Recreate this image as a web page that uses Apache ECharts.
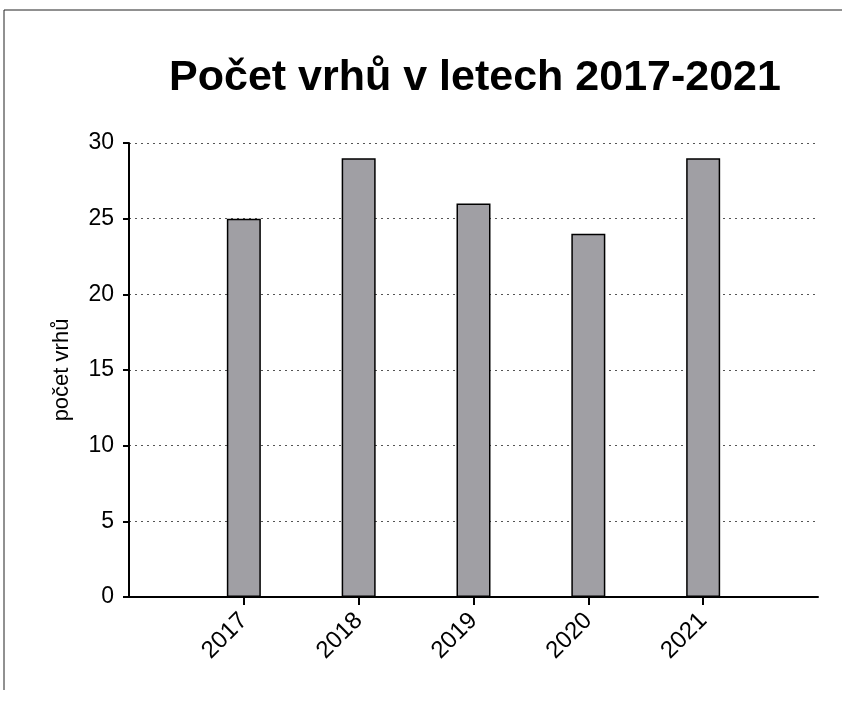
<!DOCTYPE html>
<html>
<head>
<meta charset="utf-8">
<script src="https://cdn.jsdelivr.net/npm/echarts@6/dist/echarts.min.js"></script>
<style>
  html, body { margin: 0; padding: 0; background: #fff; }
  #chart { width: 842px; height: 714px; }
</style>
</head>
<body>
<div id="chart"></div>
<script>
// data
const years = ['', '2017', '2018', '2019', '2020', '2021', '']
const litters = ['-', 25, 29, 26, 24, 29, '-']
const yTicks = [0, 5, 10, 15, 20, 25, 30]

const chart = echarts.init(document.getElementById('chart'))
const font = 'Liberation Sans, Arial, sans-serif'

const option = {
  backgroundColor: '#fff',
  animation: false,
  title: {
    text: 'Počet vrhů v letech 2017-2021',
    left: 470,
    textAlign: 'center',
    top: 52,
    textStyle: { fontFamily: font, fontSize: 43, fontWeight: 'bold', color: '#000' }
  },
  graphic: [
    { type: 'line', shape: { x1: 4, y1: 10, x2: 842, y2: 10 }, style: { stroke: '#222', lineWidth: 1 } },
    { type: 'line', shape: { x1: 4, y1: 10, x2: 4, y2: 690 }, style: { stroke: '#222', lineWidth: 1 } }
  ],
  grid: { left: 129, top: 143, right: 24, bottom: 117 },
  xAxis: {
    type: 'category',
    data: years,
    boundaryGap: false,
    axisLine: { lineStyle: { color: '#000', width: 2 } },
    axisTick: {
      length: 8,
      interval: (i, v) => v !== '',
      lineStyle: { color: '#000', width: 2 }
    },
    axisLabel: {
      rotate: 45,
      margin: 20,
      interval: 0,
      fontFamily: font,
      fontSize: 24,
      color: '#000'
    },
    splitLine: { show: false }
  },
  yAxis: {
    type: 'value',
    min: yTicks[0],
    max: yTicks[yTicks.length - 1],
    interval: 5,
    name: 'počet vrhů',
    nameLocation: 'middle',
    nameGap: 56,
    nameTextStyle: { fontFamily: font, fontSize: 22, color: '#000' },
    axisLine: { show: true, lineStyle: { color: '#000', width: 2 } },
    axisTick: { show: true, length: 6, lineStyle: { color: '#000', width: 2 } },
    axisLabel: { margin: 15, fontFamily: font, fontSize: 23, color: '#000', padding: [0, 0, 5, 0] },
    splitLine: { show: true, lineStyle: { color: '#555', type: [2, 4], width: 1 } }
  },
  series: [
    {
      type: 'bar',
      data: litters,
      barWidth: 34,
      itemStyle: { color: '#a09fa4', borderColor: '#000', borderWidth: 1.5 }
    }
  ]
}

chart.setOption(option)
</script>
</body>
</html>
